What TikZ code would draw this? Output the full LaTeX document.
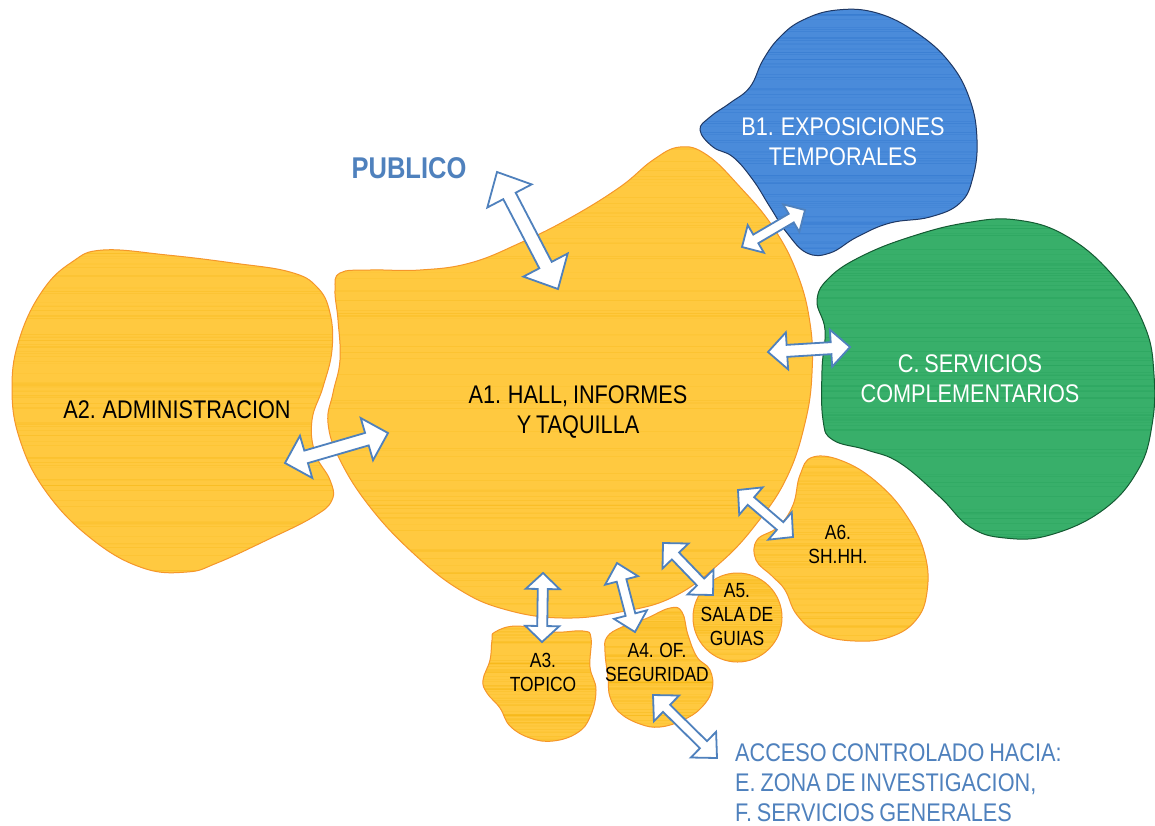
\documentclass[tikz,border=0pt]{standalone}
\usepackage{fontspec}
\setmainfont[FakeStretch=0.85, WordSpace=0.8]{Liberation Sans}
\newfontfamily\pubfont[FakeStretch=0.85]{Liberation Sans}
\usetikzlibrary{calc}
\definecolor{orfill}{HTML}{FFC940}
\definecolor{orstreak}{HTML}{F3B000}
\definecolor{orline}{HTML}{F5962A}
\definecolor{blfill}{HTML}{4A8BDA}
\definecolor{blstreak}{HTML}{1C66C4}
\definecolor{blline}{HTML}{1F3864}
\definecolor{grfill}{HTML}{38AF6A}
\definecolor{grstreak}{HTML}{12924A}
\definecolor{grline}{HTML}{145A32}
\definecolor{arrblue}{HTML}{4F81BD}
\pgfmathsetseed{4242}
\tikzset{
 streaks/.style={path picture={
   \foreach \k in {1,...,80}{
     \pgfmathsetmacro\yy{rnd}\pgfmathsetmacro\op{0.06+0.18*rnd}\pgfmathsetmacro\lw{0.4+1.0*rnd}
     \draw[#1, opacity=\op, line width=\lw pt]
       ($(path picture bounding box.north west)!\yy!(path picture bounding box.south west)$) -- ++(600pt,0);}}},
 zoneA/.style={fill=orfill, draw=orline, line width=1pt, streaks=orstreak},
 zoneB/.style={fill=blfill, draw=blline, line width=1pt, streaks=blstreak},
 zoneC/.style={fill=grfill, draw=grline, line width=1pt, streaks=grstreak},
 blockarr/.style={fill=white, draw=arrblue, line width=1.8pt, line join=miter},
 bigtxt/.style={font=\fontsize{25.5}{30}\selectfont, inner sep=0pt, align=center},
 smalltxt/.style={font=\fontsize{20.5}{24}\selectfont, inner sep=0pt, align=center},
}
% #1 start, #2 end, #3 shaft half width, #4 head half width, #5 head length
\newcommand{\dblarrow}[5]{%
\draw[blockarr] (#1)
 -- ($($(#1)!#5!(#2)$)!#4!90:(#2)$)
 -- ($($(#1)!#5!(#2)$)!#3!90:(#2)$)
 -- ($($(#2)!#5!(#1)$)!#3!-90:(#1)$)
 -- ($($(#2)!#5!(#1)$)!#4!-90:(#1)$)
 -- (#2)
 -- ($($(#2)!#5!(#1)$)!#4!90:(#1)$)
 -- ($($(#2)!#5!(#1)$)!#3!90:(#1)$)
 -- ($($(#1)!#5!(#2)$)!#3!-90:(#2)$)
 -- ($($(#1)!#5!(#2)$)!#4!-90:(#2)$)
 -- cycle;}
\begin{document}
\begin{tikzpicture}[x=1pt,y=-1pt]
\useasboundingbox (0,0) rectangle (1155,825);
\fill[white] (0,0) rectangle (1155,825);
% A2
\draw[zoneA] plot[smooth cycle, tension=0.7] coordinates {
 (103,250) (167,255) (233,263) (290,272) (317,287) (330,313) (332,350) (323,387)
 (312,420) (315,453) (330,480) (332,500) (313,517) (267,540) (217,563) (187,572)
 (143,568) (93,540) (47,493) (20,440) (12,387) (20,337) (43,290) (72,262)};
% A1
\draw[zoneA] plot[smooth cycle, tension=0.7] coordinates {
 (340,273) (370,270) (420,270) (470,263) (520,243) (570,218) (620,187) (653,160)
 (680,147) (707,155) (740,187) (773,227) (797,273) (810,323) (812,373) (805,423)
 (787,477) (757,523) (720,563) (673,597) (620,612) (563,618) (507,610) (460,590)
 (413,553) (370,507) (340,460) (328,423) (333,393) (340,360) (338,320) (335,290)};
% B1
\draw[zoneB] plot[smooth cycle, tension=0.7] coordinates {
 (700,130) (710,117) (730,103) (750,87) (763,60) (780,37) (803,20) (837,10)
 (877,13) (917,33) (950,63) (970,100) (977,140) (973,177) (960,203) (930,217)
 (890,223) (857,237) (830,253) (807,253) (787,233) (770,207) (753,180) (733,157)
 (713,147)};
% C
\draw[zoneC] plot[smooth cycle, tension=0.7] coordinates {
 (817,300) (830,277) (862,256) (910,237) (965,223) (1017,220) (1068,237) (1115,278)
 (1145,327) (1154,375) (1152,425) (1138,470) (1103,510) (1050,535) (1005,538)
 (970,527) (940,497) (900,463) (867,450) (833,440) (823,420) (822,370) (825,330)};
% A6
\draw[zoneA] plot[smooth cycle, tension=0.7] coordinates {
 (813,457) (845,462) (880,485) (908,518) (925,555) (927,592) (916,620) (890,637)
 (855,641) (820,634) (797,615) (785,590) (772,576) (756,560) (757,540) (778,527)
 (793,505) (800,475)};
% A5
\draw[zoneA] (737.5,617.5) circle[radius=44.5];
% A4
\draw[zoneA] plot[smooth cycle, tension=0.7] coordinates {
 (607,637) (622,627) (645,619) (670,608) (682,612) (688,635) (697,657) (710,670)
 (712,690) (701,708) (683,720) (660,727) (640,724) (620,713) (610,697) (608,678)
 (605,652)};
% A3
\draw[zoneA] plot[smooth cycle, tension=0.7] coordinates {
 (495,632) (517,626) (553,632) (583,631) (591,638) (590,667) (596,690) (590,717)
 (577,733) (553,741) (530,738) (510,726) (500,708) (487,693) (483,680) (490,660)
 (492,640)};
% arrow end points
\coordinate (pubA) at (497,172);   \coordinate (pubB) at (558,289);
\coordinate (admA) at (285,463);   \coordinate (admB) at (388,433);
\coordinate (expA) at (742,247);   \coordinate (expB) at (805,210);
\coordinate (serA) at (768,352);   \coordinate (serB) at (850,347);
\coordinate (shhA) at (738,490);   \coordinate (shhB) at (793,537);
\coordinate (salA) at (663,543);   \coordinate (salB) at (713,595);
\coordinate (segA) at (617,563);   \coordinate (segB) at (635,632);
\coordinate (topA) at (543,573);   \coordinate (topB) at (542,642);
\coordinate (accA) at (653,695);   \coordinate (accB) at (717,758);
\dblarrow{pubA}{pubB}{7pt}{25pt}{27pt}
\dblarrow{admA}{admB}{6.5pt}{22pt}{22pt}
\dblarrow{expA}{expB}{5pt}{16pt}{16pt}
\dblarrow{serA}{serB}{6pt}{18.5pt}{19pt}
\dblarrow{shhA}{shhB}{5pt}{18pt}{17pt}
\dblarrow{salA}{salB}{5pt}{18pt}{18pt}
\dblarrow{segA}{segB}{5pt}{17pt}{18pt}
\dblarrow{topA}{topB}{5pt}{17pt}{16pt}
\dblarrow{accA}{accB}{5pt}{18pt}{19pt}
% texts
\node[anchor=base, inner sep=0pt, text=arrblue, font=\pubfont\bfseries\fontsize{30}{36}\selectfont] (pub) at (409,178) {PUBLICO};
\node[bigtxt, anchor=north] (a1) at (578,385) {A1. HALL, INFORMES\\Y TAQUILLA};
\node[bigtxt, anchor=base] (a2) at (177,418) {A2. ADMINISTRACION};
\node[bigtxt, anchor=north, text=white] (b1) at (843,117) {B1. EXPOSICIONES\\TEMPORALES};
\node[bigtxt, anchor=north, text=white] (c) at (970,354) {C. SERVICIOS\\COMPLEMENTARIOS};
\node[smalltxt, anchor=north] (a6) at (838,525) {A6.\\SH.HH.};
\node[smalltxt, anchor=north] (a5) at (737,583) {A5.\\SALA DE\\GUIAS};
\node[smalltxt, anchor=north] (a4) at (657,643) {A4. OF.\\SEGURIDAD};
\node[smalltxt, anchor=north] (a3) at (543,653) {A3.\\TOPICO};
\node[bigtxt, anchor=north west, align=left, text=arrblue] (acc) at (735,743) {ACCESO CONTROLADO HACIA:\\E. ZONA DE INVESTIGACION,\\F. SERVICIOS GENERALES};
\end{tikzpicture}
\end{document}
